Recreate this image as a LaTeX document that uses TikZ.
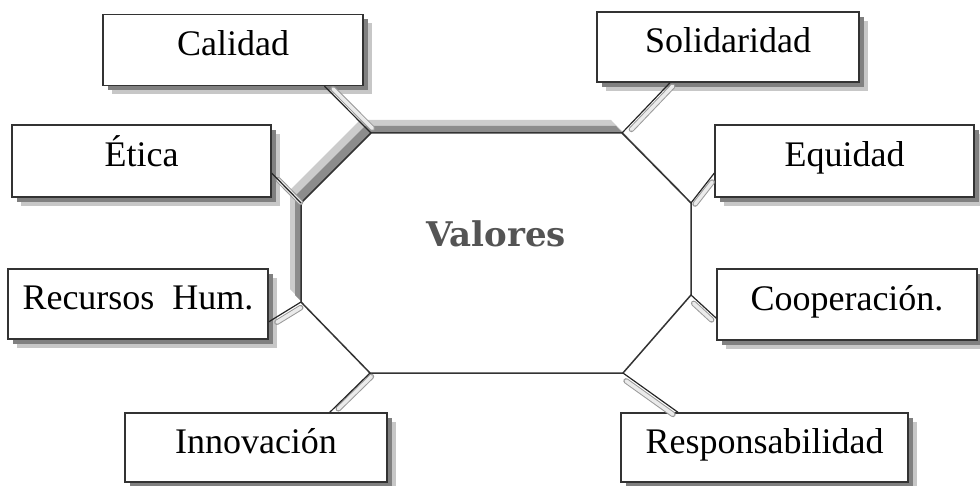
\documentclass[tikz,border=0pt]{standalone}
\usepackage{fontspec}
\setmainfont{Liberation Serif}
\newfontfamily\valfont{DejaVu Serif}
\usetikzlibrary{shadows,calc}
\tikzset{
	valbox/.style={draw=black!80, line width=1.4pt, fill=white, inner sep=0pt,
		minimum width=260pt, minimum height=71pt, text height=25pt, text depth=13pt,
		font=\fontsize{36}{40}\selectfont,
		drop shadow={shadow xshift=9pt, shadow yshift=-9pt, fill=black!22, opacity=1},
		drop shadow={shadow xshift=5pt, shadow yshift=-5pt, fill=black!50, opacity=1}},
	link/.style={draw=black!85, line width=1.2pt},
	halo/.style={draw=black!40, double=black!8, double distance=3.5pt, line width=1pt,
		line cap=round, shorten <=5pt, shorten >=5pt}
}
\begin{document}
\begin{tikzpicture}[x=1pt, y=-1pt]
	\useasboundingbox (0,0) rectangle (980,486);
	%octagon
	\coordinate (tl) at (371,133);
	\coordinate (tr) at (622,133);
	\coordinate (rt) at (691,203);
	\coordinate (rb) at (691,295);
	\coordinate (br) at (623,373);
	\coordinate (bl) at (370,373);
	\coordinate (lb) at (301,302);
	\coordinate (lt) at (301,203);
	\fill[black!20, transform canvas={xshift=-11pt, yshift=13pt}] (tl) -- (tr) -- (rt) -- (rb) -- (br) -- (bl) -- (lb) -- (lt) -- cycle;
	\fill[black!45, transform canvas={xshift=-6pt, yshift=7pt}] (tl) -- (tr) -- (rt) -- (rb) -- (br) -- (bl) -- (lb) -- (lt) -- cycle;
	\draw[draw=black!80, line width=1.5pt, fill=white] (tl) -- (tr) -- (rt) -- (rb) -- (br) -- (bl) -- (lb) -- (lt) -- cycle;
	\node (valores) at (496,234) [text=black!67, font=\valfont\bfseries\fontsize{34}{38}\selectfont]{Valores};
	
	%boxes
	\node (calidad) at (233,50) [valbox]{Calidad};
	\node (solidaridad) at (728,47) [valbox, minimum width=262pt, minimum height=70pt]{Solidaridad};
	\node (etica) at (141.5,161) [valbox, minimum width=259pt, minimum height=72pt]{Ética};
	\node (equidad) at (844.5,161) [valbox, minimum width=259pt, minimum height=72pt]{Equidad};
	\node (recursos) at (138,304) [valbox, minimum height=70pt]{Recursos\ \ Hum.};
	\node (cooperacion) at (847,304.5) [valbox]{Cooperación.};
	\node (innovacion) at (256,447.5) [valbox, minimum width=262pt, minimum height=69pt]{Innovación};
	\node (responsabilidad) at (764.5,447.5) [valbox, minimum width=287pt, minimum height=69pt]{Responsabilidad};
	
	%connectors
	\coordinate (cal) at ($(calidad.south)!0.7!(calidad.south east)$);
	\coordinate (sol) at ($(solidaridad.south)!0.44!(solidaridad.south west)$);
	\coordinate (eti) at ($(etica.east)!0.33!(etica.south east)$);
	\coordinate (equ) at ($(equidad.west)!0.33!(equidad.south west)$);
	\coordinate (rec) at ($(recursos.east)!0.5!(recursos.south east)$);
	\coordinate (coo) at ($(cooperacion.west)!0.38!(cooperacion.south west)$);
	\coordinate (inn) at ($(innovacion.north)!0.56!(innovacion.north east)$);
	\coordinate (res) at ($(responsabilidad.north)!0.6!(responsabilidad.north west)$);
	
	\draw[halo, transform canvas={xshift=5pt, yshift=1pt}] (cal) -- (tl);
	\draw[halo, transform canvas={xshift=6pt}] (sol) -- (tr);
	\draw[halo, transform canvas={xshift=3pt, yshift=-3pt}] (eti) -- (lt);
	\draw[halo, transform canvas={xshift=1pt, yshift=-5pt}] (equ) -- (rt);
	\draw[halo, transform canvas={xshift=4pt, yshift=-3pt}] (rec) -- (lb);
	\draw[halo, transform canvas={xshift=-1pt, yshift=-5pt}] (rb) -- (coo);
	\draw[halo, transform canvas={xshift=5pt}] (inn) -- (bl);
	\draw[halo, transform canvas={xshift=-1pt, yshift=-5pt}] (br) -- (res);
	
	\draw[link] (cal) -- (tl);
	\draw[link] (sol) -- (tr);
	\draw[link] (eti) -- (lt);
	\draw[link] (equ) -- (rt);
	\draw[link] (rec) -- (lb);
	\draw[link] (rb) -- (coo);
	\draw[link] (inn) -- (bl);
	\draw[link] (br) -- (res);
\end{tikzpicture}
\end{document}
